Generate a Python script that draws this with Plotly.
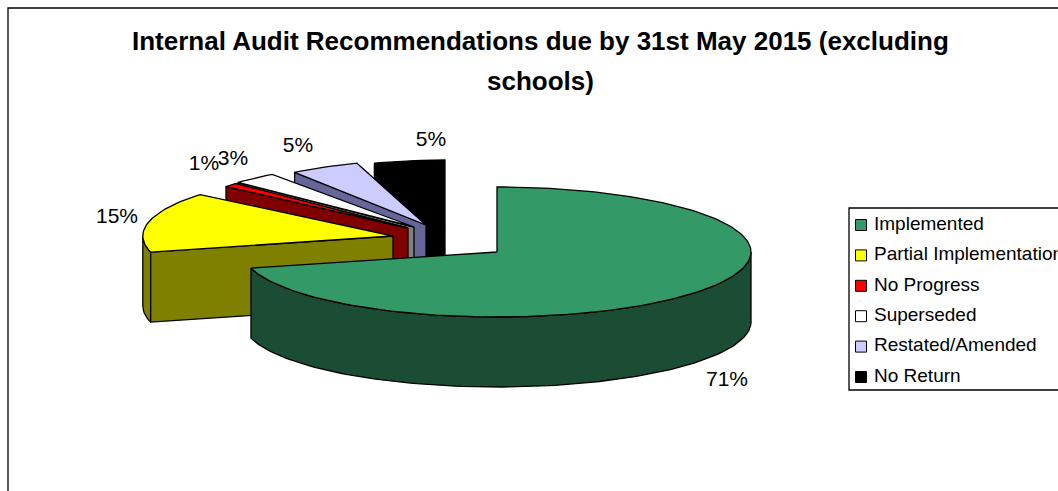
import math
import plotly.graph_objects as go

# Share of recommendations by status, in percent
categories = ["Implemented", "Partial Implementation", "No Progress",
              "Superseded", "Restated/Amended", "No Return"]
values = [71, 15, 1, 3, 5, 5]
top_colors = ["#339966", "#FFFF00", "#FF0000", "#FFFFFF", "#CCCCFF", "#000000"]
side_colors = ["#1A4D33", "#808000", "#800000", "#808080", "#666699", "#000000"]

# Pie projection, in page pixels
RX, RY, DEPTH = 254, 65, 70
hubs = [(497, 252), (393, 236), (408, 228), (414, 227), (426, 225), (445, 225)]
x_scales = [1.0, 0.985, 0.93, 0.95, 0.88, 0.90]
label_spots = [(727, 381), (117, 218), (204, 165), (233, 160), (298, 147), (431, 141)]

W, H = 1058, 491


def arc(hub, scale, a0, a1, drop=0):
    """Rim points between two clockwise angles measured from 12 o'clock."""
    n = max(2, int(abs(a1 - a0) / 1.5))
    pts = []
    for i in range(n + 1):
        a = math.radians(a0 + (a1 - a0) * i / n)
        pts.append((hub[0] + RX * scale * math.sin(a),
                    hub[1] - RY * math.cos(a) + drop))
    return pts


def polygon(fig, pts, color):
    xs = [p[0] for p in pts] + [pts[0][0]]
    ys = [p[1] for p in pts] + [pts[0][1]]
    fig.add_trace(go.Scatter(x=xs, y=ys, mode="lines", fill="toself",
                             fillcolor=color, hoverinfo="skip",
                             line=dict(color="#000000", width=1.3),
                             showlegend=False))


fig = go.Figure()

# Angular extent of each slice, clockwise from the top
spans = []
start = 0.0
for v in values:
    spans.append((start, start + v * 3.6))
    start += v * 3.6

# Back slices first so nearer ones paint over them; the large slice goes last
for i in [5, 4, 3, 2, 1, 0]:
    a0, a1 = spans[i]
    hub, s = hubs[i], x_scales[i]
    # Outer wall, only where the rim faces the viewer (90 to 270 degrees)
    band0, band1 = max(a0, 90), min(a1, 270)
    if band1 > band0:
        polygon(fig, arc(hub, s, band0, band1) + arc(hub, s, band1, band0, DEPTH),
                side_colors[i])
    # Radial cut face
    if i > 0:
        corner = arc(hub, s, a0, a0)[0]
        polygon(fig, [hub, corner, (corner[0], corner[1] + DEPTH),
                      (hub[0], hub[1] + DEPTH)], side_colors[i])
    # Top surface
    polygon(fig, [hub] + arc(hub, s, a0, a1), top_colors[i])

# Percentage labels
fig.add_trace(go.Scatter(
    x=[p[0] for p in label_spots], y=[p[1] for p in label_spots],
    mode="text", text=[f"{v}%" for v in values], hoverinfo="skip",
    textfont=dict(family="Liberation Sans", size=21, color="#000000"),
    showlegend=False))

# Key on the right
LEG_X, LEG_Y0, LEG_STEP = 861, 225, 30.4
rows_y = [LEG_Y0 + k * LEG_STEP for k in range(len(categories))]
fig.add_trace(go.Scatter(
    x=[LEG_X] * len(categories), y=rows_y, mode="markers",
    marker=dict(symbol="square", size=11, color=top_colors,
                line=dict(color="#000000", width=1)),
    hoverinfo="skip", showlegend=False))
fig.add_trace(go.Scatter(
    x=[LEG_X + 13] * len(categories), y=rows_y, mode="text", text=categories,
    textposition="middle right", hoverinfo="skip",
    textfont=dict(family="Liberation Sans", size=19, color="#000000"),
    showlegend=False))

fig.update_layout(
    width=W, height=H, autosize=False,
    margin=dict(l=0, r=0, t=0, b=0),
    paper_bgcolor="#FFFFFF", plot_bgcolor="#FFFFFF",
    xaxis=dict(range=[0, W], visible=False, fixedrange=True),
    yaxis=dict(range=[H, 0], visible=False, fixedrange=True),
    shapes=[
        dict(type="rect", x0=8, y0=8, x1=W + 20, y1=H + 20, xref="x", yref="y",
             line=dict(color="#000000", width=1.3), layer="below"),
        dict(type="rect", x0=849, y0=208, x1=W + 20, y1=390, xref="x", yref="y",
             line=dict(color="#000000", width=1.3), layer="below"),
    ],
    annotations=[
        dict(x=540, y=41, xref="x", yref="y", showarrow=False, yanchor="middle",
             text="<b>Internal Audit Recommendations due by 31st May 2015 (excluding</b>",
             font=dict(family="Liberation Sans", size=26, color="#000000")),
        dict(x=540, y=81, xref="x", yref="y", showarrow=False, yanchor="middle",
             text="<b>schools)</b>",
             font=dict(family="Liberation Sans", size=26, color="#000000")),
    ],
)

fig.write_html("out.html", config=dict(displayModeBar=False))
